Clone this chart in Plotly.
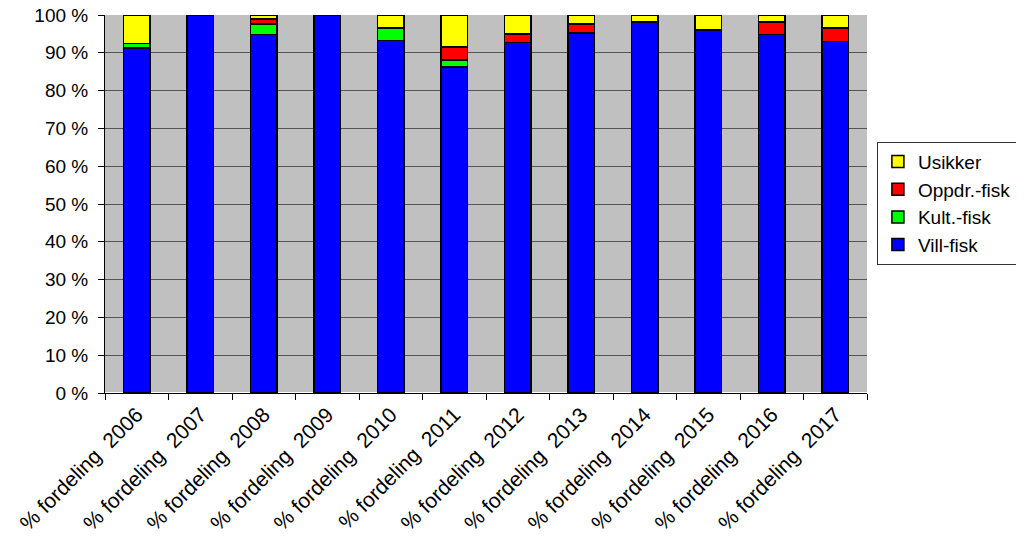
import plotly.graph_objects as go

kategorier = ['% fordeling\u00a0 2006', '% fordeling\u00a0 2007', '% fordeling\u00a0 2008',
              '% fordeling\u00a0 2009', '% fordeling\u00a0 2010', '% fordeling\u00a0 2011',
              '% fordeling\u00a0 2012', '% fordeling\u00a0 2013', '% fordeling\u00a0 2014',
              '% fordeling\u00a0 2015', '% fordeling\u00a0 2016', '% fordeling\u00a0 2017']

vill_fisk = [91.3, 100.0, 94.9, 100.0, 93.2, 86.3, 92.7, 95.3, 98.2, 96.0, 94.8, 93.0]
kult_fisk = [1.2, 0.0, 2.7, 0.0, 3.4, 1.8, 0.0, 0.0, 0.0, 0.0, 0.0, 0.0]
oppdr_fisk = [0.0, 0.0, 1.3, 0.0, 0.0, 3.5, 2.3, 2.3, 0.0, 0.0, 3.4, 3.5]
usikker = [7.5, 0.0, 1.1, 0.0, 3.4, 8.4, 5.0, 2.4, 1.8, 4.0, 1.8, 3.5]

serier = [
    ('Vill-fisk', vill_fisk, '#0000FF'),
    ('Kult.-fisk', kult_fisk, '#00FF00'),
    ('Oppdr.-fisk', oppdr_fisk, '#FF0000'),
    ('Usikker', usikker, '#FFFF00'),
]

fig = go.Figure()
for navn, verdier, farge in serier:
    fig.add_trace(go.Bar(
        x=kategorier, y=verdier, name=navn,
        marker=dict(color=farge, line=dict(color='black', width=1.5)),
        width=0.41
    ))

# siden har 8px marg, så figuren gjøres litt mindre
fig.update_layout(
    barmode='stack',
    width=1016, height=542,
    margin=dict(l=97, r=152, t=7, b=157),
    paper_bgcolor='white',
    plot_bgcolor='#C0C0C0',
    font=dict(family='Liberation Sans, Arial', size=20, color='black'),
    legend=dict(
        traceorder='reversed',
        x=1.013, y=0.665, xanchor='left', yanchor='top',
        bordercolor='#333333', borderwidth=1, bgcolor='white',
        font=dict(size=19), itemwidth=30, tracegroupgap=0,
    ),
    bargap=0.59,
)
fig.update_yaxes(
    range=[0, 100], dtick=10, ticksuffix=' %', automargin=False,
    ticklabeloverflow='allow', ticklabelstandoff=6,
    gridcolor='#555555', gridwidth=1,
    showline=True, linecolor='black', linewidth=1,
    ticks='outside', ticklen=6, tickcolor='black',
    tickfont=dict(size=19),
)
fig.update_xaxes(
    tickangle=-45, showline=True, linecolor='black', linewidth=1, automargin=False,
    ticklabeloverflow='allow',
    ticks='outside', ticklen=6, tickcolor='black', tickson='boundaries',
    showgrid=False, tickfont=dict(size=21),
)

fig.write_html("out.html")
